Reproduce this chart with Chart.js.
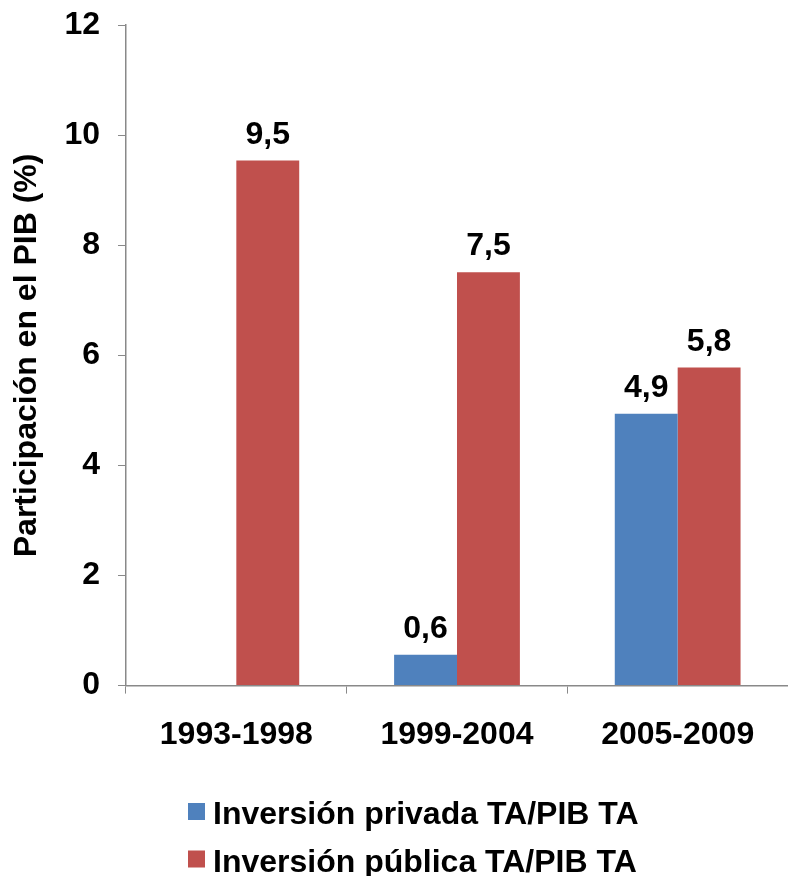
<!DOCTYPE html>
<html>
<head>
<meta charset="utf-8">
<script src="https://cdn.jsdelivr.net/npm/chart.js@4.4.0/dist/chart.umd.min.js"></script>
<style>
  html, body { margin: 0; padding: 0; background: #ffffff; overflow: hidden; }
  #frame { width: 788px; height: 876px; position: relative; overflow: hidden; }
  #wrap { width: 788px; height: 888px; position: absolute; left: 0; top: -12px; }
</style>
</head>
<body>
<div id="frame"><div id="wrap"><canvas id="c"></canvas></div></div>
<script>
const categories = ['1993-1998', '1999-2004', '2005-2009'];
const privada = [null, 0.56, 4.94];
const publica = [9.54, 7.51, 5.78];
const seriesNames = ['Inversión privada TA/PIB TA', 'Inversión pública TA/PIB TA'];
const seriesColors = ['#4F81BD', '#C0504D'];
const yTicks = [0, 2, 4, 6, 8, 10, 12];
const axisTitle = 'Participación en el PIB (%)';

const FONT = '"Liberation Sans", Arial, Helvetica, sans-serif';
const FS = 32;
const AXIS = '#898989';
const SHIFT = 12;

const valueLabels = {
  id: 'valueLabels',
  afterDatasetsDraw(chart) {
    const ctx = chart.ctx;
    ctx.save();
    ctx.font = 'bold ' + FS + 'px ' + FONT;
    ctx.fillStyle = '#000';
    ctx.textAlign = 'center';
    ctx.textBaseline = 'alphabetic';
    chart.data.datasets.forEach((ds, di) => {
      const meta = chart.getDatasetMeta(di);
      meta.data.forEach((bar, i) => {
        const v = ds.data[i];
        if (v === null || v === undefined) return;
        const txt = v.toFixed(1).replace('.', ',');
        ctx.fillText(txt, bar.x, bar.y - 17);
      });
    });
    ctx.restore();
  }
};

const customLegend = {
  id: 'customLegend',
  afterDraw(chart) {
    const ctx = chart.ctx;
    ctx.save();
    ctx.font = 'bold ' + FS + 'px ' + FONT;
    ctx.textAlign = 'left';
    ctx.textBaseline = 'alphabetic';
    const boxX = 188, box = 17, textX = 213;
    const base0 = 824 + SHIFT, step = 47.5;
    chart.data.datasets.forEach((ds, i) => {
      const baseline = base0 + i * step;
      ctx.fillStyle = ds.backgroundColor;
      ctx.fillRect(boxX, baseline - 21, box, box);
      ctx.fillStyle = '#000';
      ctx.fillText(ds.label, textX, baseline);
    });
    ctx.restore();
  }
};

new Chart(document.getElementById('c'), {
  type: 'bar',
  data: {
    labels: categories,
    datasets: [
      { label: seriesNames[0], data: privada, backgroundColor: seriesColors[0], borderWidth: 0 },
      { label: seriesNames[1], data: publica, backgroundColor: seriesColors[1], borderWidth: 0 }
    ]
  },
  options: {
    responsive: true,
    maintainAspectRatio: false,
    animation: false,
    datasets: { bar: { categoryPercentage: 0.57, barPercentage: 1.0 } },
    layout: { padding: { top: 0, right: 0, left: 0, bottom: 100 } },
    plugins: {
      tooltip: { enabled: false },
      legend: { display: false }
    },
    scales: {
      x: {
        grid: { display: true, drawOnChartArea: false, drawTicks: true, tickLength: 8, color: AXIS },
        border: { display: true, color: AXIS, width: 1.5 },
        ticks: { font: { family: FONT, size: FS, weight: 'bold' }, color: '#000', padding: 22 }
      },
      y: {
        min: 0, max: 12,
        afterBuildTicks(scale) { scale.ticks = yTicks.map(v => ({ value: v })); },
        grid: { display: true, drawOnChartArea: false, drawTicks: true, tickLength: 8, color: AXIS },
        border: { display: true, color: AXIS, width: 1.5 },
        ticks: { font: { family: FONT, size: FS, weight: 'bold' }, color: '#000', padding: 18 },
        title: { display: true, text: axisTitle, font: { family: FONT, size: FS, weight: 'bold' }, color: '#000', padding: { top: 8, bottom: 0 } }
      }
    }
  },
  plugins: [valueLabels, customLegend]
});
</script>
</body>
</html>
